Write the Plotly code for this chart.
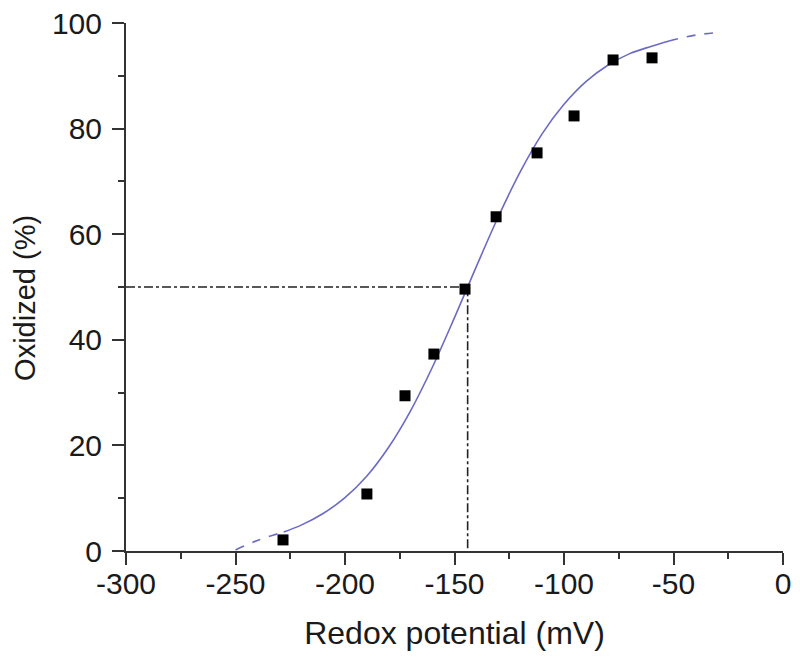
import plotly.graph_objects as go

# Measured data points
potential_mv = [-228.3, -190.0, -172.6, -159.4, -145.2, -131.0, -112.3, -95.4, -77.6, -59.8]
oxidized_pct = [2.1, 10.8, 29.4, 37.3, 49.6, 63.3, 75.4, 82.4, 93.0, 93.4]

# Fitted curve (dashed extrapolation at both ends)
fit_low_x = [-250, -240, -228]
fit_low_y = [0.2, 2.0, 3.6]
fit_mid_x = [-228, -220, -210, -200, -190, -180, -170, -160, -150, -140, -130,
             -120, -110, -100, -90, -80, -70, -60, -52]
fit_mid_y = [3.6, 4.9, 7.1, 10.1, 14.2, 19.7, 26.6, 34.9, 44.2, 53.9, 63.3,
             71.8, 79.0, 84.6, 88.9, 92.0, 94.2, 95.6, 96.6]
fit_high_x = [-52, -40, -30]
fit_high_y = [96.6, 97.7, 98.2]

# Midpoint potential guide
midpoint_mv = -144
midpoint_pct = 50
x_min, x_max = -300, 0
y_min, y_max = 0, 100

x_ticks = [-300, -250, -200, -150, -100, -50, 0]
y_ticks = [0, 20, 40, 60, 80, 100]

curve_color = "#6b6bc4"
axis_color = "#333333"
font_family = "Liberation Sans, Arial, sans-serif"

fig = go.Figure()

# Guide lines (dash-dot)
fig.add_trace(go.Scatter(x=[x_min, midpoint_mv, midpoint_mv], y=[midpoint_pct, midpoint_pct, y_min],
                         mode="lines", line=dict(color="#222222", width=1.6, dash="dashdot"),
                         showlegend=False, hoverinfo="skip"))

for xs, ys, dash in [(fit_low_x, fit_low_y, "dash"), (fit_mid_x, fit_mid_y, "solid"),
                     (fit_high_x, fit_high_y, "dash")]:
    fig.add_trace(go.Scatter(x=xs, y=ys, mode="lines", line=dict(color=curve_color, width=1.6,
                                                               dash=dash, shape="spline"),
                             showlegend=False, hoverinfo="skip"))

fig.add_trace(go.Scatter(x=potential_mv, y=oxidized_pct, mode="markers",
                         marker=dict(symbol="square", size=11, color="#000000"),
                         showlegend=False, cliponaxis=False))

# The page body adds an 8px margin, so the figure is sized to fit the 800x661 window
fig.update_layout(
    width=792, height=653,
    margin=dict(l=118, r=17, t=15, b=110),
    paper_bgcolor="white", plot_bgcolor="white",
    font=dict(family=font_family, color="#1a1a1a", size=30),
    annotations=[dict(text="Oxidized (%)", textangle=-90, xref="paper", yref="paper",
                      x=-0.154, y=0.479, xanchor="center", yanchor="middle",
                      showarrow=False, font=dict(size=29))],
)

fig.update_xaxes(
    range=[x_min, x_max], tickvals=x_ticks, ticktext=[str(t) for t in x_ticks],
    showgrid=False, zeroline=False, showline=True, linecolor=axis_color, linewidth=2,
    ticks="outside", ticklen=12, tickwidth=2, tickcolor=axis_color,
    tickfont=dict(size=30), automargin=False, ticklabelstandoff=-7, ticklabeloverflow="allow",
    minor=dict(ticks="outside", ticklen=6, tickwidth=2, tickcolor=axis_color, dtick=25, tick0=0, showgrid=False),
    title=dict(text="Redox potential (mV)", font=dict(size=32), standoff=23),
)
fig.update_yaxes(
    range=[y_min, y_max], tickvals=y_ticks, ticktext=[str(t) for t in y_ticks],
    showgrid=False, zeroline=False, showline=True, linecolor=axis_color, linewidth=2,
    ticks="outside", ticklen=12, tickwidth=2, tickcolor=axis_color,
    tickfont=dict(size=30), automargin=False, ticklabelstandoff=4, ticklabeloverflow="allow",
    minor=dict(ticks="outside", ticklen=6, tickwidth=2, tickcolor=axis_color, dtick=10, tick0=0, showgrid=False),
)

fig.write_html("out.html")
